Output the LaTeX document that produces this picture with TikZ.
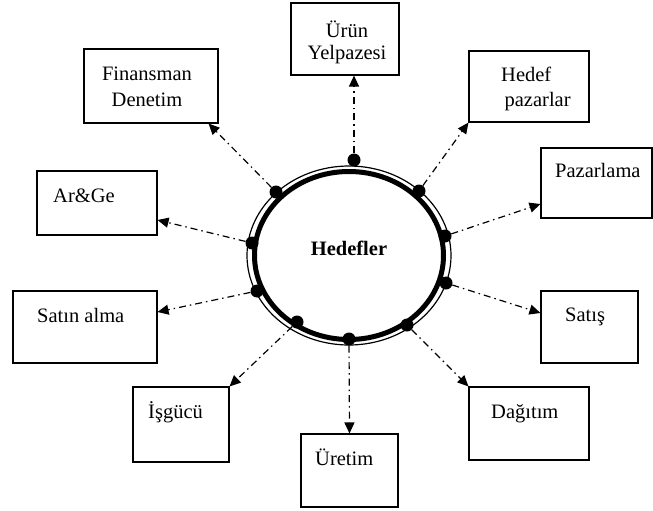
\documentclass[tikz,border=0pt]{standalone}
\usepackage{fontspec}
\setmainfont{Liberation Serif}
\usetikzlibrary{arrows.meta,calc}
\begin{document}
\begin{tikzpicture}[x=1pt,y=-1pt,
  box/.style={draw, line width=1.1pt, inner sep=0pt, rectangle},
  lbl/.style={inner sep=0pt, font=\fontsize{20.5}{25}\selectfont},
  pin/.style={circle, fill, inner sep=0pt, minimum size=13pt},
  link/.style={line width=1.2pt, dash pattern=on 7pt off 4pt on 1.5pt off 4pt, -{Triangle[length=11pt,width=10pt]}}
]
\useasboundingbox (0,0) rectangle (653,511);

% central ellipse
\draw[line width=1.2pt] (349,255.5) ellipse [x radius=102, y radius=89.5];
\draw[line width=5pt] (349,255.5) ellipse [x radius=94.5, y radius=84];
\node[lbl, font=\fontsize{20.5}{25}\selectfont\bfseries, anchor=base] (hed) at (349,255) {Hedefler};

% boxes
\node[box, minimum width=108, minimum height=72] (urun) at (345,39) {};
\node[box, minimum width=134, minimum height=74] (fin) at (151,86) {};
\node[box, minimum width=120, minimum height=71] (hdf) at (529,86.5) {};
\node[box, minimum width=111, minimum height=70] (paz) at (596.5,183) {};
\node[box, minimum width=120, minimum height=64] (arge) at (97,203) {};
\node[box, minimum width=144, minimum height=72] (satin) at (85,327) {};
\node[box, minimum width=97, minimum height=72] (satis) at (589.5,327) {};
\node[box, minimum width=96, minimum height=75] (isg) at (181,424.5) {};
\node[box, minimum width=120, minimum height=73] (dag) at (529,423.5) {};
\node[box, minimum width=97, minimum height=73] (ure) at (349.5,470.5) {};

% labels
\node[lbl, font=\fontsize{20.5}{22}\selectfont, anchor=base] (urunT) at (347,37.3) {\begin{tabular}[t]{@{}c@{}}Ürün\\Yelpazesi\end{tabular}};
\node[lbl, font=\fontsize{20.5}{26}\selectfont, anchor=base] (finT) at (147,80.7) {\begin{tabular}[t]{@{}c@{}}Finansman\\Denetim\end{tabular}};
\node[lbl, anchor=base west] (hdfT) at (501,81.7) {\begin{tabular}[t]{@{}l@{}}Hedef\\\,pazarlar\end{tabular}};
\node[lbl, anchor=base west] (pazT) at (555,177.3) {Pazarlama};
\node[lbl, anchor=base west] (argeT) at (53,202.3) {Ar\&Ge};
\node[lbl, anchor=base west] (satinT) at (37,322.7) {Satın alma};
\node[lbl, anchor=base west] (satisT) at (565,321.7) {Satış};
\node[lbl, anchor=base west] (isgT) at (148,418.3) {İşgücü};
\node[lbl, anchor=base west] (dagT) at (491,418.3) {Dağıtım};
\node[lbl, anchor=base west] (ureT) at (315,465.7) {Üretim};

% dots on the ring
\node[pin] (d1) at (354,160) {};
\node[pin] (d2) at (276,192) {};
\node[pin] (d3) at (419,191) {};
\node[pin] (d4) at (445,236) {};
\node[pin] (d5) at (252,243) {};
\node[pin] (d6) at (446,283) {};
\node[pin] (d7) at (257,291) {};
\node[pin] (d8) at (297,322) {};
\node[pin] (d9) at (349,339) {};
\node[pin] (d10) at (407,325) {};

% connectors
\draw[link] (d1) -- ($(urun.south)+(9,0)$);
\draw[link] (d2) -- ($(fin.south east)+(-10,0)$);
\draw[link] (d3) -- (hdf.south west);
\draw[link] (d4) -- ($(paz.west)+(0,21)$);
\draw[link] (d5) -- ($(arge.east)+(0,17)$);
\draw[link] (d6) -- ($(satis.west)+(0,-14)$);
\draw[link] (d7) -- ($(satin.east)+(0,-15)$);
\draw[link] (d8) -- (isg.north east);
\draw[link] (d9) -- (ure.north);
\draw[link] (d10) -- (dag.north west);
\end{tikzpicture}
\end{document}
